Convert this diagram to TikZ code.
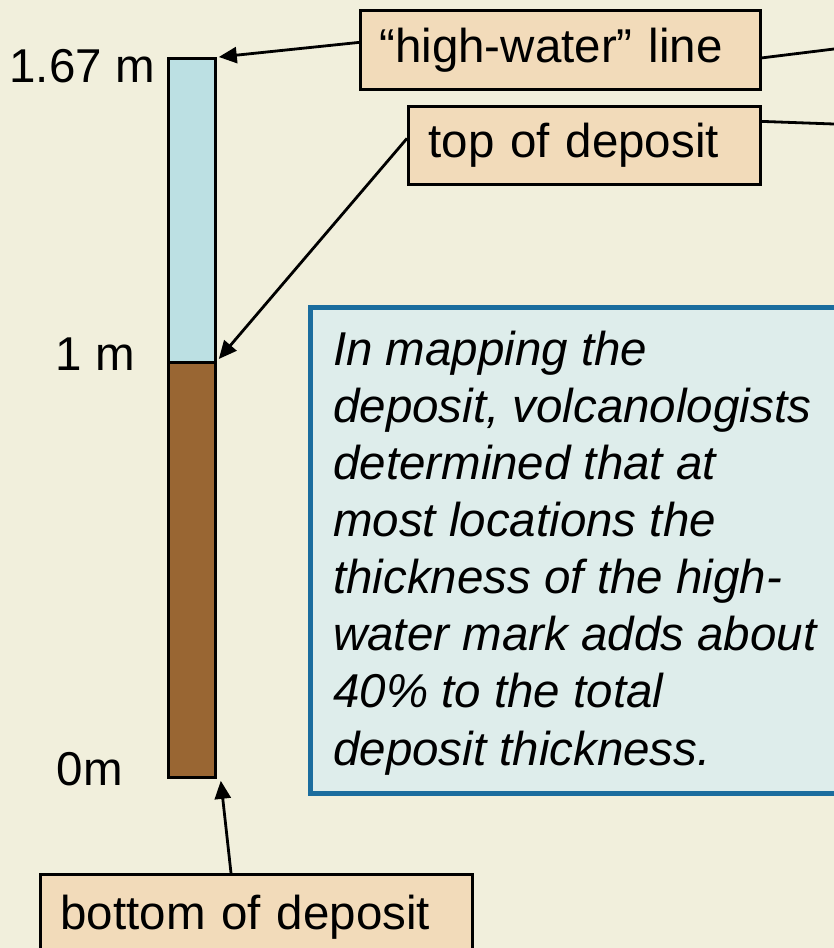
\documentclass[tikz,border=0pt]{standalone}
\usepackage{fontspec}
\setmainfont{Liberation Sans}
\usetikzlibrary{arrows.meta}
\definecolor{bg}{HTML}{F1EFDC}
\definecolor{lblfill}{HTML}{F2DBBA}
\definecolor{water}{HTML}{BCE0E3}
\definecolor{brown}{HTML}{996633}
\definecolor{infofill}{HTML}{DEEDEB}
\definecolor{infoborder}{HTML}{1B6D9E}
\tikzset{
  lbl/.style={draw=black, line width=2.8pt, fill=lblfill, anchor=north west, align=left, inner ysep=0pt,
    font=\fontsize{47.5}{57.2}\selectfont},
  colpart/.style={draw=black, line width=2.8pt, anchor=north west, inner sep=0pt, minimum width=47pt},
  arr/.style={line width=2.8pt, -{Triangle[length=18pt,width=16pt]}},
  conn/.style={line width=2.8pt},
  scalelbl/.style={anchor=base east, inner sep=0pt, font=\fontsize{47.5}{57.2}\selectfont},
}
\begin{document}
\begin{tikzpicture}[x=1pt,y=-1pt]
\useasboundingbox (0,0) rectangle (834,948);
\fill[bg] (0,0) rectangle (834,948);
% column
\node[colpart, fill=water, minimum height=304pt] (waterpart) at (167,57) {};
\node[colpart, fill=brown, minimum height=415pt] (deppart) at (167,361) {};
% scale labels
\node[scalelbl] (l167) at (155,82) {1.67 m};
\node[scalelbl] (l1) at (135,370) {1 m};
\node[scalelbl] (l0) at (123,785) {0m};
% label boxes
\node[lbl, minimum width=400pt, minimum height=79pt, inner xsep=19pt, text width=362pt] (hw) at (359,9) {“high-water” line};
\node[lbl, minimum width=352pt, minimum height=78pt, inner xsep=20pt, text width=312pt] (top) at (407,105) {top of deposit};
\node[lbl, minimum width=432pt, minimum height=86pt, inner xsep=20pt, text width=392pt] (bot) at (39,873) {bottom of deposit};
% info box
\draw[line width=5pt, draw=infoborder, fill=infofill] (310,307) rectangle (860,793);
\node[anchor=base west, inner sep=0pt, align=left, font=\fontsize{47.5}{57.14}\selectfont\itshape] (info) at (333,765)
{In mapping the\\deposit, volcanologists\\determined that at\\most locations the\\thickness of the high-\\water mark adds about\\40\% to the total\\deposit thickness.};
% connectors
\coordinate (hwend) at (834,49);
\coordinate (topend) at (834,124);
\draw[arr] ([yshift=7.5pt]hw.west) -- ([xshift=2pt]waterpart.north east);
\draw[arr] ([yshift=7pt]top.west) -- ([xshift=2pt,yshift=2pt]deppart.north east);
\draw[arr] ([xshift=192pt]bot.north west) -- ([xshift=4pt,yshift=-2pt]deppart.south east);
\draw[conn] ([yshift=-8pt]hw.east) -- (hwend);
\draw[conn] ([yshift=24pt]top.east) -- (topend);
\end{tikzpicture}
\end{document}
